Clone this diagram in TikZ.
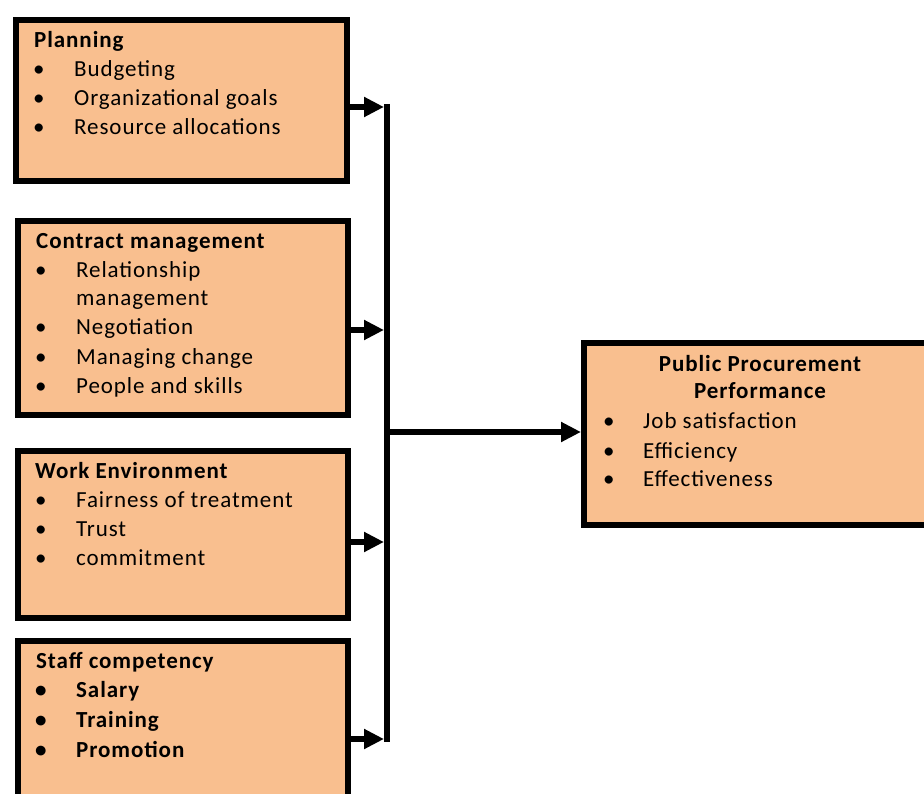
\documentclass[tikz,border=0pt]{standalone}
\usepackage{fontspec}
\setmainfont{Carlito}[LetterSpace=4]
\usetikzlibrary{arrows.meta}
\definecolor{boxfill}{HTML}{F9BF8F}
\newcommand\bul{\makebox[41pt][l]{•}}
\newcommand\bulp{\makebox[40pt][l]{•}}
\begin{document}
\begin{tikzpicture}[x=1pt,y=1pt,
  box/.style={draw=black, line width=6pt, fill=boxfill, rectangle, anchor=north west, inner sep=0pt},
  conn/.style={line width=6pt},
  arr/.style={line width=6pt, -{Triangle[length=20pt,width=19pt]}},
  txt/.style={anchor=base west, inner sep=0pt, font=\fontsize{23}{29}\selectfont},
  ttl/.style={txt, font=\fontsize{23}{29}\selectfont\bfseries},
  ctl/.style={anchor=base, inner sep=0pt, font=\fontsize{23}{29}\selectfont\bfseries}]
\useasboundingbox (0,0) rectangle (924,-794);
\clip (0,0) rectangle (924,-794);
% boxes
\node[box, minimum width=331pt, minimum height=161pt] (plan) at (13,-17) {};
\node[box, minimum width=330pt, minimum height=194pt] (contract) at (15,-218) {};
\node[box, minimum width=330pt, minimum height=167pt] (work) at (15,-448) {};
\node[box, minimum width=330pt, minimum height=220pt] (staff) at (15,-638) {};
\node[box, minimum width=420pt, minimum height=182pt] (ppp) at (581,-340) {};
% planning text
\node[ttl] (pt) at (34,-48) {Planning};
\node[txt] (p1) at (33,-77) {\bul Budgeting};
\node[txt] (p2) at (33,-106) {\bul Organizational goals};
\node[txt] (p3) at (33,-135) {\bul Resource allocations};
% contract text
\node[ttl] (ct) at (36,-249) {Contract management};
\node[txt] (c1) at (35,-278) {\bul Relationship};
\node[txt] (c1b) at (35,-306) {\hspace*{41pt}management};
\node[txt] (c2) at (35,-335) {\bul Negotiation};
\node[txt] (c3) at (35,-364) {\bul Managing change};
\node[txt] (c4) at (35,-393) {\bul People and skills};
% work text
\node[ttl] (wt) at (35,-478) {Work Environment};
\node[txt] (w1) at (35,-507) {\bul Fairness of treatment};
\node[txt] (w2) at (35,-536) {\bul Trust};
\node[txt] (w3) at (35,-565) {\bul commitment};
% staff text
\node[ttl] (st) at (36,-668) {Staff competency};
\node[ttl] (s1) at (35,-697) {\bul Salary};
\node[ttl] (s2) at (35,-727) {\bul Training};
\node[ttl] (s3) at (35,-757) {\bul Promotion};
% ppp text
\node[ctl] (qt1) at (760,-372) {Public Procurement};
\node[ctl] (qt2) at (760,-399) {Performance};
\node[txt] (q1) at (603,-428) {\bulp Job satisfaction};
\node[txt] (q2) at (603,-458) {\bulp Efficiency};
\node[txt] (q3) at (603,-486) {\bulp Effectiveness};
% connectors
\coordinate (bt) at (387,-104);
\coordinate (bb) at (387,-742);
\coordinate (b1) at (384,-107);
\coordinate (b2) at (384,-330);
\coordinate (b3) at (384,-542);
\coordinate (b4) at (384,-739);
\coordinate (bm) at (387,-432);
\draw[conn] (bt) -- (bb);
\draw[arr] (plan.east |- b1) -- (b1);
\draw[arr] (contract.east |- b2) -- (b2);
\draw[arr] (work.east |- b3) -- (b3);
\draw[arr] (staff.east |- b4) -- (b4);
\draw[arr] (bm) -- (ppp.west |- bm);
\end{tikzpicture}
\end{document}
